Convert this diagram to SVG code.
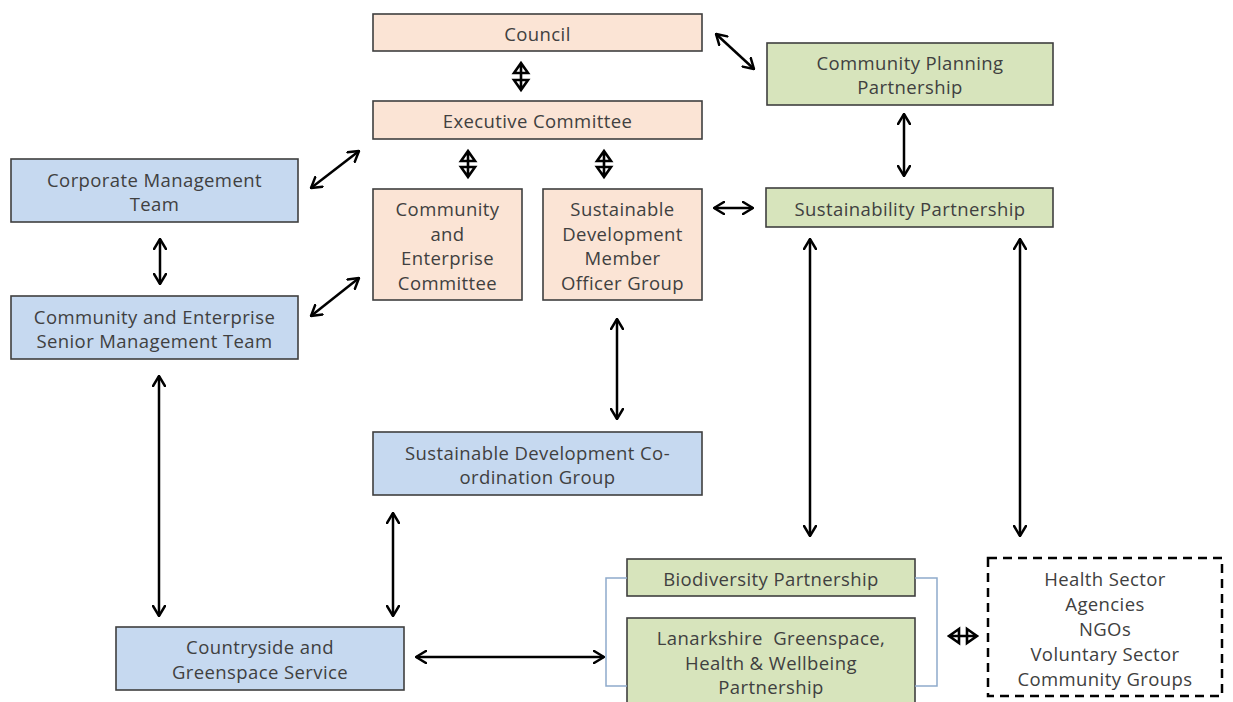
<svg xmlns="http://www.w3.org/2000/svg" width="1233" height="702" viewBox="0 0 1233 702">
<defs>
<marker id="ah" viewBox="0 0 12 14" refX="11" refY="7" markerWidth="12" markerHeight="14" markerUnits="userSpaceOnUse" orient="auto-start-reverse">
<path d="M1,1 L11,7 L1,13" fill="none" stroke="#000" stroke-width="2.5" stroke-linecap="round" stroke-linejoin="miter"/>
</marker>
</defs>
<style>
.box{stroke:#3f3f3f;stroke-width:1.6}
.peach{fill:#fbe4d5}
.blue{fill:#c6d9f0}
.green{fill:#d7e4bc}
.t{font-family:"Open Sans","Noto Sans","Liberation Sans",sans-serif;font-size:18.5px;fill:#404040;text-anchor:middle;dominant-baseline:central;letter-spacing:0.4px}
.c{fill:none;stroke:#000;stroke-width:2.5}
.arr{marker-start:url(#ah);marker-end:url(#ah)}
.dia{fill:#fff;stroke:#000;stroke-width:2.6;stroke-linejoin:miter}
.br{fill:none;stroke:#8eaacb;stroke-width:1.5}
</style>
<rect width="1233" height="702" fill="#fff"/>

<g id="council">
<rect class="box peach" x="373" y="14" width="329" height="37"/>
<text class="t" x="537.5" y="33">Council</text>
</g>
<g id="executive-committee">
<rect class="box peach" x="373" y="101" width="329" height="38"/>
<text class="t" x="537.5" y="120">Executive Committee</text>
</g>
<g id="community-enterprise-committee">
<rect class="box peach" x="373" y="189" width="149" height="111"/>
<text class="t" x="447.5" y="208">Community</text>
<text class="t" x="447.5" y="233">and</text>
<text class="t" x="447.5" y="257">Enterprise</text>
<text class="t" x="447.5" y="282">Committee</text>
</g>
<g id="sd-member-officer-group">
<rect class="box peach" x="543" y="189" width="159" height="111"/>
<text class="t" x="622.5" y="208">Sustainable</text>
<text class="t" x="622.5" y="233">Development</text>
<text class="t" x="622.5" y="257">Member</text>
<text class="t" x="622.5" y="282">Officer Group</text>
</g>
<g id="sd-coordination-group">
<rect class="box blue" x="373" y="432" width="329" height="63"/>
<text class="t" x="537.5" y="452">Sustainable Development Co-</text>
<text class="t" x="537.5" y="476">ordination Group</text>
</g>
<g id="corporate-management-team">
<rect class="box blue" x="11" y="159" width="287" height="63"/>
<text class="t" x="154.5" y="179">Corporate Management</text>
<text class="t" x="154.5" y="203">Team</text>
</g>
<g id="ce-senior-management-team">
<rect class="box blue" x="11" y="296" width="287" height="63"/>
<text class="t" x="154.5" y="316">Community and Enterprise</text>
<text class="t" x="154.5" y="340">Senior Management Team</text>
</g>
<g id="countryside-greenspace-service">
<rect class="box blue" x="116" y="627" width="288" height="63"/>
<text class="t" x="260" y="646">Countryside and</text>
<text class="t" x="260" y="671">Greenspace Service</text>
</g>
<g id="community-planning-partnership">
<rect class="box green" x="767" y="43" width="286" height="62"/>
<text class="t" x="910" y="62">Community Planning</text>
<text class="t" x="910" y="86">Partnership</text>
</g>
<g id="sustainability-partnership">
<rect class="box green" x="766" y="188" width="287" height="39"/>
<text class="t" x="910" y="208">Sustainability Partnership</text>
</g>
<g id="biodiversity-partnership">
<rect class="box green" x="627" y="559" width="288" height="37"/>
<text class="t" x="771" y="578">Biodiversity Partnership</text>
</g>
<g id="lanarkshire-greenspace">
<rect class="box green" x="627" y="618" width="288" height="95"/>
<text class="t" x="771" y="637" xml:space="preserve">Lanarkshire  Greenspace,</text>
<text class="t" x="771" y="662">Health &amp; Wellbeing</text>
<text class="t" x="771" y="686">Partnership</text>
</g>
<g id="partner-bracket">
<path class="br" d="M627,578 H606 V686 H627"/>
<path class="br" d="M915,578 H937 V686 H915"/>
</g>
<g id="external-groups">
<rect x="988" y="558" width="234" height="138" fill="#fff" stroke="#000" stroke-width="2.5" stroke-dasharray="9,6"/>
<text class="t" x="1105" y="578">Health Sector</text>
<text class="t" x="1105" y="603">Agencies</text>
<text class="t" x="1105" y="628">NGOs</text>
<text class="t" x="1105" y="653">Voluntary Sector</text>
<text class="t" x="1105" y="678">Community Groups</text>
</g>

<g id="connectors">
<path class="c arr" d="M716,34 L754,69"/>
<path class="c arr" d="M359,151 L311,188"/>
<path class="c arr" d="M359,278 L311,316"/>
<path class="c arr" d="M160,239 V284"/>
<path class="c arr" d="M904,114 V176"/>
<path class="c arr" d="M714,208 H753"/>
<path class="c arr" d="M617,319 V419"/>
<path class="c arr" d="M810,239 V536"/>
<path class="c arr" d="M1020,239 V536"/>
<path class="c arr" d="M159,376 V616"/>
<path class="c arr" d="M393,513 V616"/>
<path class="c arr" d="M416,657 H604"/>
<g id="diamond-arrows">
<path class="dia" d="M521,63 L528,73 L514,73 Z M521,90 L528,80 L514,80 Z M521,63 V90"/>
<path class="dia" d="M468,151 L475,161 L461,161 Z M468,177 L475,167 L461,167 Z M468,151 V177"/>
<path class="dia" d="M604,151 L611,161 L597,161 Z M604,177 L611,167 L597,167 Z M604,151 V177"/>
<path class="dia" d="M949,636 L959,629 L959,643 Z M977,636 L967,629 L967,643 Z M949,636 H977"/>
</g>
</g>
</svg>
